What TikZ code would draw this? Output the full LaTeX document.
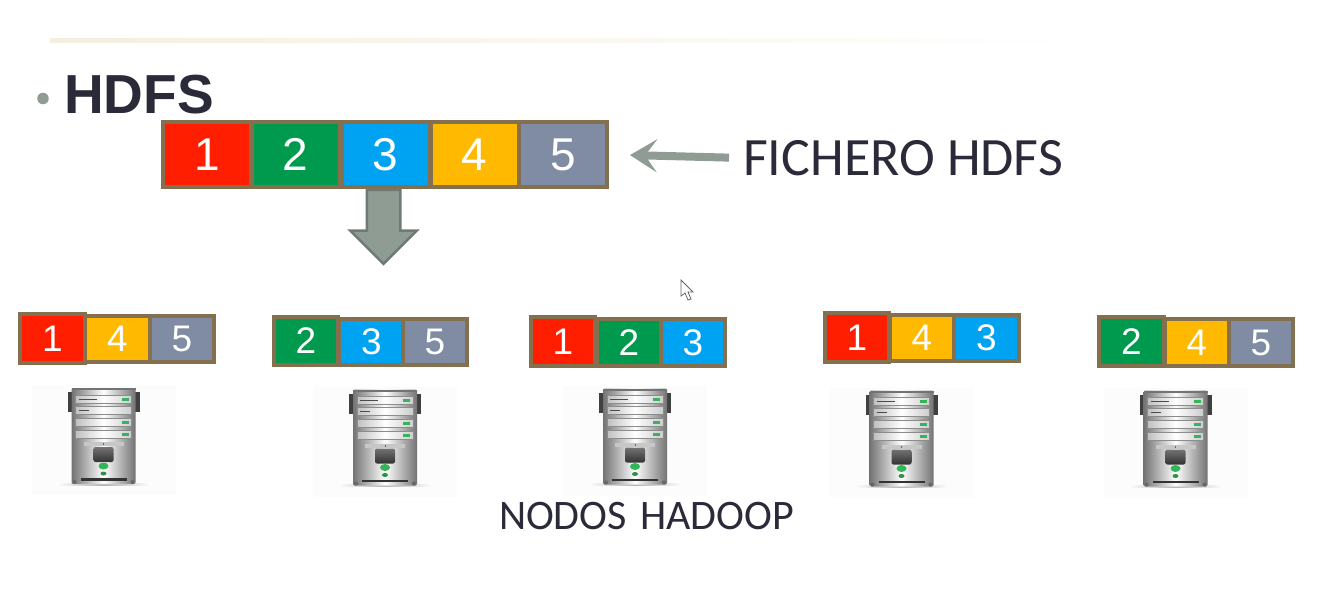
\documentclass[tikz,border=0pt]{standalone}
\usepackage{fontspec}
\usepackage{xcolor}
\usepackage{tikz}
\usetikzlibrary{shapes.arrows, arrows.meta, positioning}
\setmainfont{Carlito}
\newfontfamily\digitfont{Liberation Sans}
\definecolor{blockborder}{HTML}{84704F}
\definecolor{blockred}{HTML}{FF1F00}
\definecolor{blockgreen}{HTML}{009A4E}
\definecolor{blockblue}{HTML}{00A2F2}
\definecolor{blockyellow}{HTML}{FFB900}
\definecolor{blockgray}{HTML}{7F8CA3}
\definecolor{arrowgray}{HTML}{8F9C94}
\definecolor{arrowedge}{HTML}{6F7A75}
\definecolor{inktext}{HTML}{2A2A38}
\definecolor{ruleline}{HTML}{F3EFDF}
\definecolor{ledgreen}{HTML}{35B558}
\tikzstyle{filecell} = [
    draw=blockborder,
    line width=4pt,
    text=white,
    inner sep=0pt,
    minimum width=88pt,
    minimum height=65.5pt,
    font=\digitfont\fontsize{46}{50}\selectfont
]
\tikzstyle{nodecell} = [
    draw=blockborder,
    line width=4pt,
    text=white,
    inner sep=0pt,
    minimum width=64.5pt,
    minimum height=46.5pt,
    font=\digitfont\fontsize{37}{40}\selectfont
]
\tikzstyle{firstcell} = [
    nodecell,
    minimum height=48.5pt
]
\tikzstyle{splitarrow} = [
    draw=arrowedge,
    fill=arrowgray,
    line width=2.5pt,
    single arrow,
    shape border rotate=270,
    single arrow head extend=16.5pt,
    inner sep=15.5pt,
    minimum height=74pt
]
\tikzstyle{filearrow} = [
    draw=arrowgray,
    line width=8pt,
    -{Stealth[length=27pt,width=33pt,inset=12pt]},
    shorten <=14pt,
    shorten >=21pt
]
\tikzstyle{biglabel} = [
    text=inktext,
    inner sep=0pt
]
\tikzset{
  server/.pic={
    % backdrop and shadow
    \fill[black!1] (-72,-3) rectangle (72,107);
    \shade[left color=black!1, right color=black!1, middle color=black!30] (-46,95) rectangle (46,97);
    % side handles
    \fill[black!75] (-36,4) rectangle (-29,24);
    \fill[black!75] (29,4) rectangle (36,24);
    % cabinet
    \shade[left color=black!55, right color=black!55, middle color=white,
           rounded corners=1.5pt] (-32,0) rectangle (32,96);
    \fill[black!55] (-32,0) rectangle (32,2);
    % drive bays
    \shade[left color=black!25, right color=black!20, middle color=white,
           draw=black!45, line width=0.5pt] (-28,7) rectangle (28,15);
    \shade[left color=black!25, right color=black!20, middle color=white,
           draw=black!45, line width=0.5pt] (-28,18) rectangle (28,26);
    \shade[left color=black!25, right color=black!20, middle color=white,
           draw=black!45, line width=0.5pt] (-28,30) rectangle (28,38);
    \shade[left color=black!25, right color=black!20, middle color=white,
           draw=black!45, line width=0.5pt] (-28,42) rectangle (28,50);
    \draw[black!70, line width=0.8pt] (-25,11) -- (-7,11);
    \draw[black!70, line width=0.8pt] (-25,22) -- (-15,22);
    \fill[ledgreen] (18,9.5) rectangle (25,12.5);
    \fill[ledgreen] (18,32.5) rectangle (25,35.5);
    \fill[ledgreen] (18,44.5) rectangle (25,47.5);
    % front panel
    \fill[black!22] (-20,54) rectangle (20,58);
    \fill[black!60] (-0.5,55) rectangle (0.5,57);
    \shade[top color=black!55, bottom color=black!80, rounded corners=2pt]
        (-10,59) rectangle (10,74);
    \fill[ledgreen] (0,78) ellipse (5pt and 3.5pt);
    \fill[ledgreen!80!black] (0,85.5) ellipse (3pt and 2pt);
    \fill[black!80] (-23,90) rectangle (23,92.5);
    % corner screws
    \fill[black!60] (-29,94) circle (2pt);
    \fill[black!60] (29,94) circle (2pt);
  }
}

\begin{document}
\begin{tikzpicture}[x=1pt,y=-1pt]
\useasboundingbox (0,0) rectangle (1330,600);

% header rule
\shade[left color=ruleline, middle color=ruleline, right color=white] (50,38) rectangle (1080,42);

% title
\node[fill=arrowgray, circle, inner sep=0pt, minimum size=11.5pt] (bullet) at (43,98.5) {};
\node[biglabel, anchor=west, font=\digitfont\bfseries\fontsize{55}{60}\selectfont] (title) at (64,95) {HDFS};

% file
\node[filecell, fill=blockred] (f1) at (207,154.5) {1};
\node[filecell, fill=blockgreen] (f2) at (295.5,154.5) {2};
\node[filecell, fill=blockblue] (f3) at (385.5,154.5) {3};
\node[filecell, fill=blockyellow] (f4) at (474.5,154.5) {4};
\node[filecell, fill=blockgray] (f5) at (563,154.5) {5};

\node[biglabel, anchor=west, font=\fontsize{54}{60}\selectfont] (fichero) at (743,158) {FICHERO HDFS};
\draw[filearrow] (fichero.west) -- (f5.east);

\node[splitarrow] (split) at (383.5,218.5) {};

% blocks on each node
\node[nodecell, fill=blockyellow] (a2) at (117.5,339) {4};
\node[nodecell, fill=blockgray] (a3) at (182,339) {5};
\node[firstcell, fill=blockred] (a1) at (52.5,338.5) {1};

\node[nodecell, fill=blockblue] (b2) at (371.5,342) {3};
\node[nodecell, fill=blockgray] (b3) at (435,342) {5};
\node[firstcell, fill=blockgreen] (b1) at (306,341) {2};

\node[nodecell, fill=blockgreen] (c2) at (629,342.5) {2};
\node[nodecell, fill=blockblue] (c3) at (693,342.5) {3};
\node[firstcell, fill=blockred] (c1) at (563,341.5) {1};

\node[nodecell, fill=blockyellow] (d2) at (922,338) {4};
\node[nodecell, fill=blockblue] (d3) at (986.5,338) {3};
\node[firstcell, fill=blockred] (d1) at (857,337.5) {1};

\node[nodecell, fill=blockyellow] (e2) at (1197,342.5) {4};
\node[nodecell, fill=blockgray] (e3) at (1261,342.5) {5};
\node[firstcell, fill=blockgreen] (e1) at (1131.5,341.5) {2};

% servers
\pic (s1) at (103.5,388) {server};
\pic (s2) at (385,389.5) {server};
\pic (s3) at (635,388.5) {server};
\pic (s4) at (901.5,390.5) {server};
\pic (s5) at (1175.5,390.5) {server};

\node[biglabel, font=\fontsize{42}{48}\selectfont] (hadoop) at (646.5,516) {NODOS\hspace{4pt} HADOOP};

% mouse pointer
\draw[fill=white, draw=black!60, line width=0.8pt] (681,280) -- (681,296) -- (685,293) -- (688,300)
    -- (691,299) -- (688,292) -- (693,292) -- cycle;

\end{tikzpicture}
\end{document}
